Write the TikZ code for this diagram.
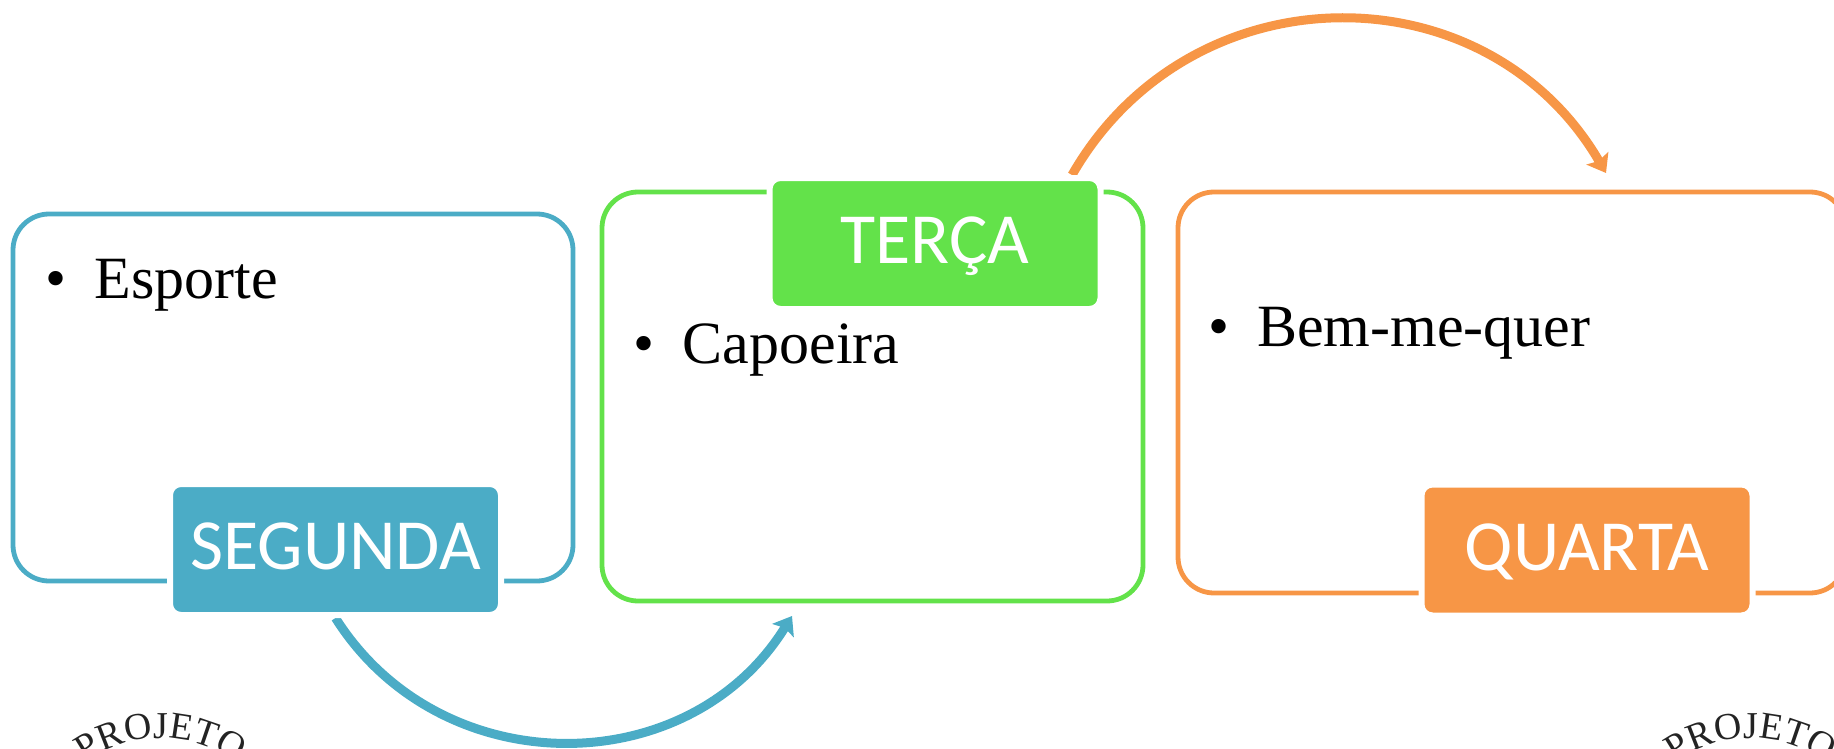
\documentclass[tikz,border=0pt]{standalone}
\usepackage{fontspec}
\setmainfont{Liberation Serif}
\newfontfamily\labelfont{Carlito}
\usetikzlibrary{arrows.meta, calc, backgrounds, decorations.text}

\definecolor{segblue}{RGB}{75,172,198}
\definecolor{tergreen}{RGB}{99,226,74}
\definecolor{quaorange}{RGB}{247,150,70}
\definecolor{logogray}{RGB}{35,35,35}

\tikzset{
	daybox/.style = {draw = #1, line width = 4.8pt, rounded corners = 36pt, inner sep = 0pt},
	daylabel/.style = {fill = #1, draw = white, line width = 6pt, rounded corners = 11pt,
		minimum width = 331pt, minimum height = 131pt, inner sep = 0pt, text = white,
		font = \labelfont\fontsize{72}{72}\selectfont, text height = 46pt, text depth = 6pt},
	item/.style = {anchor = base west, inner sep = 0pt, font = \fontsize{60}{60}\selectfont},
	dayarrow/.style = {draw = #1, line width = 9pt, -{Stealth[length = 17pt, width = 25pt, inset = 3pt]}},
}

\begin{document}
\begin{tikzpicture}[x = 1pt, y = 1pt]
			\def\r{128};
			\def\logoy{-866};

			\useasboundingbox (0,0) rectangle (1834,-749);
			\clip (0,0) rectangle (1834,-749);

			\node [daybox = segblue, minimum width = 560pt, minimum height = 367pt] (segbox) at (293,-397.5) {};
			\node [daybox = tergreen, minimum width = 541pt, minimum height = 409pt] (terbox) at (872.5,-396.5) {};
			\node [daybox = quaorange, minimum width = 668pt, minimum height = 401pt] (quabox) at (1512,-392.5) {};

			\node [item] (esporte) at ($(segbox.north west)+(35,-87)$) {\textbullet\hspace{28pt}Esporte};
			\node [item] (capoeira) at ($(terbox.north west)+(34,-174)$) {\textbullet\hspace{28pt}Capoeira};
			\node [item] (bemmequer) at ($(quabox.north west)+(32.5,-157)$) {\textbullet\hspace{28pt}Bem-me-quer};

			\node [daylabel = segblue] (segunda) at (335.5,-549.5) {SEGUNDA};
			\node [daylabel = tergreen] (terca) at (935,-243.5) {TERÇA};
			\node [daylabel = quaorange] (quarta) at (1587,-550) {QUARTA};

			\coordinate (segtip) at (792,-616);
			\coordinate (quatip) at (1606,-173);

			\begin{scope}[on background layer]
				\draw [dayarrow = segblue] (segunda.south) to [bend right = 58, looseness = 1.1] (segtip);
				\draw [dayarrow = quaorange] ($(terca.north east)+(-31.5,0)$) to [bend left = 60, looseness = 1.14] (quatip);
			\end{scope}

			\foreach \cx in {161, 1751}
				\path [decorate, decoration = {text along path, text align = center, text color = logogray,
					text = {|\fontsize{38}{38}\selectfont|PROJETO}}]
					(\cx,\logoy) ++(140:\r) arc [start angle = 140, end angle = 40, radius = \r];
		\end{tikzpicture}
\end{document}
